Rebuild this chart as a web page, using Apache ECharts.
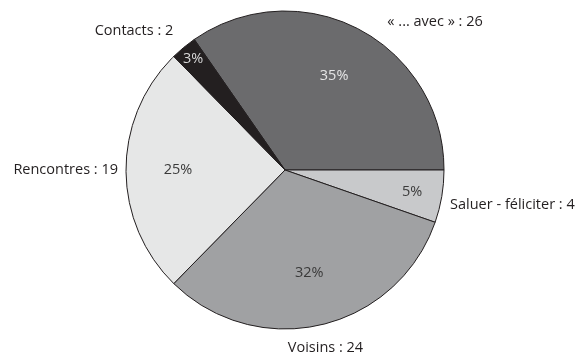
<!DOCTYPE html>
<html>
<head>
<meta charset="utf-8">
<script src="https://cdn.jsdelivr.net/npm/echarts@6/dist/echarts.min.js"></script>
<style>
  html, body { margin: 0; padding: 0; background: #fff; }
  #main { width: 582px; height: 357px; }
</style>
</head>
<body>
<div id="main"></div>
<script>
// data
const categories = ['« ... avec »', 'Saluer - féliciter', 'Voisins', 'Rencontres', 'Contacts'];
const values = [26, 4, 24, 19, 2];
const sliceColors = ['#6b6b6d', '#c8c9cb', '#a0a1a3', '#e6e7e7', '#231f20'];
const pctColors = ['#e6e6e6', '#3a3a3a', '#3a3a3a', '#3a3a3a', '#d8d8d8'];

// label placement tweaks (outer labels: line lengths; inner labels: radius)
const outerLen = [8, 51, 24, 0, 21];
const outerLen2 = [25, -42, -39, 8, -3];
const innerR = [106, 129, 106, 107, 144];

const cx = 285, cy = 170, R = 159;
const total = values.reduce((a, b) => a + b, 0);
const startAngle = values[0] / total * 360;
const font = 'Open Sans';

var chartDom = document.getElementById('main');
var myChart = echarts.init(chartDom);

const slices = categories.map((name, i) => ({
  name: name,
  value: values[i],
  itemStyle: { color: sliceColors[i] },
  labelLine: { show: false, length: outerLen[i], length2: outerLen2[i] }
}));

const pctData = categories.map((name, i) => ({
  name: name,
  value: values[i],
  label: { color: pctColors[i] }
}));

var option = {
  backgroundColor: '#ffffff',
  animation: false,
  series: [
    {
      type: 'pie',
      center: [cx, cy],
      radius: R,
      startAngle: startAngle,
      clockwise: true,
      avoidLabelOverlap: false,
      itemStyle: { borderColor: '#231f20', borderWidth: 1 },
      label: {
        position: 'outside',
        distanceToLabelLine: 0,
        fontFamily: font,
        fontSize: 14.5,
        color: '#231f20',
        formatter: p => p.name + ' : ' + p.value
      },
      emphasis: { disabled: true },
      data: slices
    },
    {
      type: 'pie',
      center: [cx, cy],
      radius: R,
      startAngle: startAngle,
      clockwise: true,
      silent: true,
      avoidLabelOverlap: false,
      itemStyle: { color: 'rgba(0,0,0,0)', borderWidth: 0 },
      label: {
        position: 'inside',
        fontFamily: font,
        fontSize: 14.5,
        formatter: p => Math.round(p.value / total * 100) + '%'
      },
      labelLayout: function (params) {
        const r = params.labelRect;
        const mx = r.x + r.width / 2, my = r.y + r.height / 2;
        const d = Math.hypot(mx - cx, my - cy) || 1;
        const k = innerR[params.dataIndex] / d;
        return {
          x: cx + (mx - cx) * k,
          y: cy + (my - cy) * k,
          align: 'center',
          verticalAlign: 'middle'
        };
      },
      emphasis: { disabled: true },
      data: pctData
    }
  ]
};
myChart.setOption(option);
window.addEventListener('resize', () => {
  myChart.resize();
});
</script>
</body>
</html>
